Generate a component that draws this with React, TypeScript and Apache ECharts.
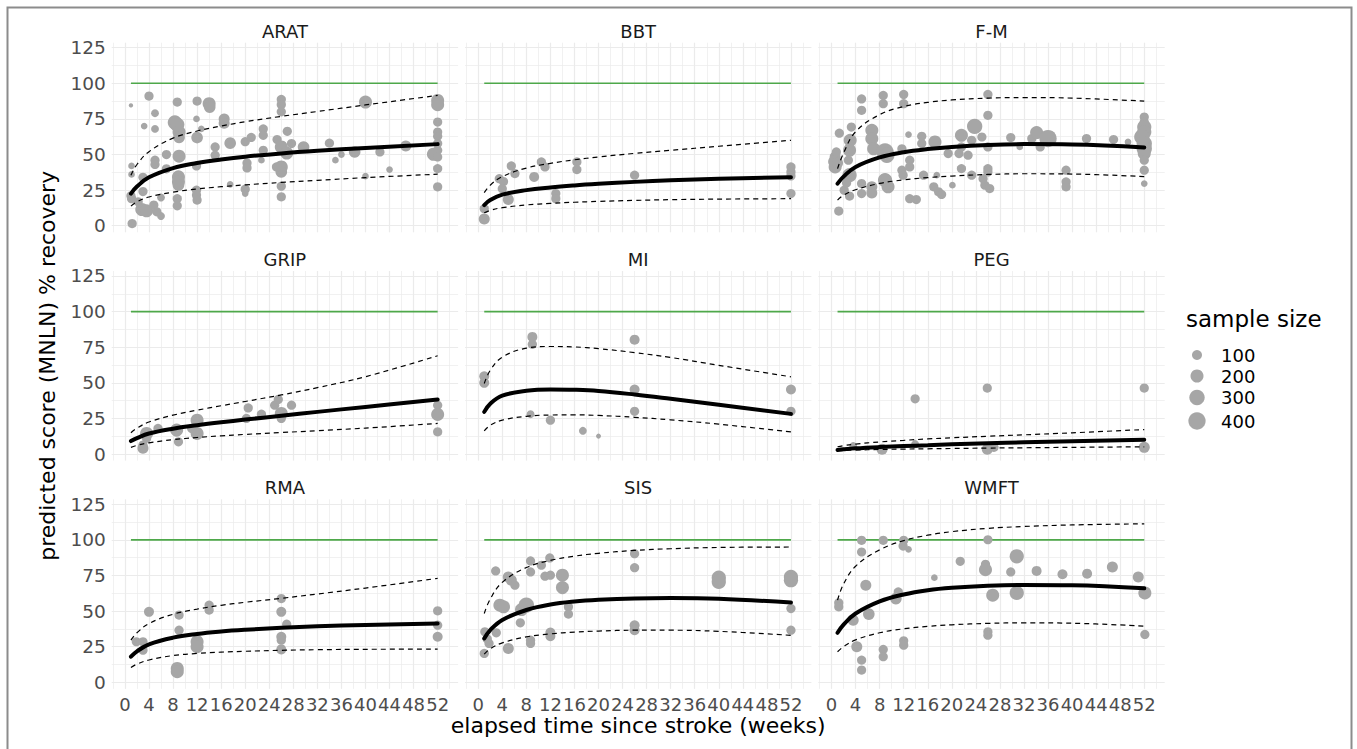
import React, { useEffect, useRef } from "react";
import * as echarts from "echarts";

// ---------- data ----------
const PANELS = ["ARAT", "BBT", "F-M", "GRIP", "MI", "PEG", "RMA", "SIS", "WMFT"];
const X_TICKS = [0, 4, 8, 12, 16, 20, 24, 28, 32, 36, 40, 44, 48, 52];
const Y_TICKS = [0, 25, 50, 75, 100, 125];
const X_GRID = [-2, 0, 2, 4, 6, 8, 10, 12, 14, 16, 18, 20, 22, 24, 26, 28, 30, 32, 34, 36, 38, 40, 42, 44, 46, 48, 50, 52, 54];
const Y_GRID = [0, 12.5, 25, 37.5, 50, 62.5, 75, 87.5, 100, 112.5, 125];
const CURVE_WEEKS = [1, 2, 4, 8, 12, 16, 20, 26, 32, 40, 52];
const REFERENCE_LEVEL = 100;
const LEGEND_SIZES = [100, 200, 300, 400];

// fitted curve, upper and lower bound per panel (values at CURVE_WEEKS)
const FIT: Record<string, number[]> = {
  ARAT: [22.6, 27.5, 34, 40.5, 44, 46.5, 48.5, 50.8, 52.6, 54.6, 57.3],
  BBT: [14.5, 18, 21.8, 25, 26.9, 28.3, 29.4, 30.8, 31.9, 33, 34],
  "F-M": [29.6, 34.5, 41.3, 48, 51.6, 53.8, 55.3, 56.7, 57.3, 57.1, 55],
  GRIP: [9.1, 11.2, 14.4, 17.8, 20.2, 22.3, 24.2, 26.9, 29.6, 33.1, 38.3],
  MI: [29.6, 35.3, 41, 44.4, 45.3, 45.1, 44.3, 41.8, 38.8, 34.6, 28.2],
  PEG: [2.8, 3.3, 4, 4.9, 5.6, 6.2, 6.8, 7.6, 8.3, 9, 10],
  RMA: [18, 21.8, 26.7, 31.4, 34, 35.7, 36.9, 38.3, 39.3, 40.3, 41.3],
  SIS: [30.8, 36.7, 43.8, 50.8, 54.6, 56.7, 57.9, 58.9, 59.2, 58.7, 56],
  WMFT: [34.8, 40.5, 48.3, 56.8, 61.7, 64.7, 66.4, 67.8, 68.4, 68.2, 66],
};
const UPPER: Record<string, number[]> = {
  ARAT: [35.5, 43, 52, 61.5, 66.5, 70, 73, 76.8, 80.2, 84.8, 91.5],
  BBT: [23.3, 28.5, 34.5, 40.5, 43.8, 46.3, 48.3, 50.8, 53, 55.8, 60],
  "F-M": [40.1, 51, 66, 78, 83.7, 86.6, 88.3, 89.6, 90, 89.6, 87.5],
  GRIP: [15, 18.2, 22.5, 27.3, 30.8, 33.9, 36.9, 41.5, 46.6, 54.3, 69],
  MI: [49.5, 58.8, 68, 74.3, 75.5, 75.2, 74, 71.2, 67.8, 62.3, 54.2],
  PEG: [5.1, 5.9, 7, 8.5, 9.6, 10.6, 11.4, 12.5, 13.5, 14.9, 17.2],
  RMA: [29.6, 34.8, 41.3, 47.8, 51.4, 54.1, 56.2, 59, 62, 66.2, 73],
  SIS: [48.3, 58.5, 70.2, 80.6, 85.6, 88.6, 90.6, 92.6, 93.8, 94.7, 95],
  WMFT: [57.7, 69, 81.5, 93, 99.5, 103.3, 105.8, 108.1, 109.4, 110.5, 111.3],
};
const LOWER: Record<string, number[]> = {
  ARAT: [13.8, 16.8, 20.2, 23.6, 25.8, 27.4, 28.7, 30.4, 31.9, 33.8, 36.2],
  BBT: [9.1, 10.8, 12.7, 14.6, 15.7, 16.5, 17.1, 17.8, 18.3, 18.7, 19],
  "F-M": [18, 21.4, 25.3, 29.7, 32.2, 33.8, 34.9, 36, 36.5, 36.3, 34.5],
  GRIP: [4.7, 6.1, 7.9, 10.1, 11.6, 12.8, 13.8, 15.1, 16.4, 18.2, 21.5],
  MI: [16.3, 20.2, 23.8, 26.5, 27.4, 27.5, 27.1, 25.8, 24, 21, 15.5],
  PEG: [2.3, 2.5, 2.8, 3.2, 3.5, 3.7, 3.9, 4.2, 4.4, 4.7, 5.1],
  RMA: [10.5, 12.8, 15.7, 18.8, 20.3, 21.2, 21.8, 22.5, 22.9, 23.2, 23.3],
  SIS: [19.8, 23.6, 27.7, 31.9, 34, 35.3, 36, 36.6, 36.6, 35.8, 33],
  WMFT: [21.5, 25.1, 29.8, 34.8, 37.6, 39.3, 40.4, 41.4, 41.8, 41.5, 39.5],
};

// study points: [weeks, % recovery, sample size]
const ARAT_PTS = [
  [1.0, 84.5, 5], [1.1, 42, 30], [1.1, 36, 30], [1.0, 21, 80], [1.1, 19, 80], [1.2, 1.5, 80],
  [3.2, 70, 30], [4, 91, 80], [5, 79, 50], [5, 68, 50], [3, 34, 80], [2.8, 11.4, 200], [3.6, 10.5, 200],
  [2.2, 16.8, 80], [3, 24, 80], [5, 46, 80], [5, 43, 80], [4.8, 14.5, 80], [5.3, 9.8, 80], [6, 6.8, 50],
  [6, 19.8, 50], [6.9, 50, 80], [6.9, 40, 80], [8.7, 86.8, 80], [8.3, 72.5, 250], [8.7, 71, 250],
  [9, 65.8, 200], [9, 62, 150], [9, 48.8, 200], [8.9, 34.3, 200], [8.9, 30.8, 200], [8.9, 28.5, 150],
  [8.7, 19, 80], [8.7, 14, 80], [12, 87.5, 80], [11.9, 75, 30], [14, 85.7, 200], [14.1, 83.3, 150],
  [12, 61.9, 150], [11.9, 42, 80], [11.9, 25, 80], [11.9, 21.5, 80], [12, 18, 80], [12.7, 68, 30],
  [15, 55.3, 80], [15, 49.5, 80], [16.5, 75, 130], [16.5, 72, 130], [17.5, 58, 150], [17.5, 29, 30],
  [20, 59, 80], [21, 62, 80], [20.3, 44, 80], [20.3, 40.6, 80], [20, 25.7, 80], [20, 22.6, 30],
  [23, 68, 80], [23, 63.5, 80], [23, 53, 80], [22.7, 46, 30], [25.3, 60.5, 80], [26, 88.7, 80],
  [26, 85, 80], [26, 80, 80], [26, 55.3, 200], [26, 41.3, 200], [26, 37.8, 150], [26, 27.8, 80],
  [26, 20.3, 80], [25.2, 41.3, 80], [27, 66.3, 80], [26.9, 51, 200], [27.7, 57.7, 80], [29.7, 55.3, 150],
  [34, 58, 80], [35, 46, 30], [36, 50, 30], [38.2, 51.8, 150], [40, 86.8, 200], [40, 34.8, 30],
  [42.4, 51.8, 80], [44, 39.4, 30], [46.7, 56, 130], [52, 88, 200], [52, 85, 200], [52, 72.8, 80],
  [52, 65.8, 80], [52, 62.8, 80], [52, 57.7, 80], [52, 53, 80], [51.3, 50.2, 200], [52, 48.3, 80],
  [52, 40.1, 80], [52, 27.3, 80],
];
const BBT_PTS = [
  [1, 4.7, 130], [1, 12, 80], [3.5, 33, 80], [4.2, 31, 80], [4, 26, 80], [5, 18.4, 130], [5.5, 42, 80],
  [6.1, 36.6, 80], [9.3, 34.3, 100], [10.5, 44.8, 80], [11.1, 41.3, 80], [12.9, 22.6, 80], [12.9, 19, 80],
  [16.4, 44.8, 80], [16.4, 39.4, 80], [26, 35.5, 80], [52, 41.3, 80], [52, 37.8, 80], [52, 35, 80],
  [52, 22.6, 80],
];
const FM_PTS = [
  [1.2, 10.3, 80], [0.6, 48.3, 130], [0.8, 51.8, 80], [0.6, 41.3, 200], [1.3, 65, 80], [0.4, 45, 150],
  [1.0, 44, 130], [3.3, 69.3, 80], [3.1, 60, 200], [3, 53, 200], [2.8, 46, 80], [3, 35.5, 250],
  [2.1, 25, 80], [3, 20.8, 80], [2.5, 30, 80], [5, 89, 80], [5, 81, 80], [5, 29.6, 80], [5, 22.6, 80],
  [6.7, 27.3, 130], [6.7, 23, 130], [6.7, 67, 200], [6.7, 61, 200], [7, 54, 200], [8.6, 91.5, 80],
  [8.6, 85.7, 80], [8.9, 51.8, 400], [9.2, 49.5, 300], [8.9, 32, 250], [9.4, 27.3, 200], [12, 92.2, 80],
  [12, 85.7, 80], [12.8, 64, 30], [11.7, 54, 80], [13, 46, 80], [11.7, 39, 80], [11.9, 35.5, 80],
  [13, 41.3, 80], [13, 19, 80], [14.1, 18.4, 80], [15, 62.8, 80], [15, 57.7, 80], [15.3, 35.5, 80],
  [17.2, 58.8, 200], [17.5, 35.5, 30], [17, 27.3, 80], [17.8, 23.8, 80], [18.3, 22, 80], [19.4, 50.7, 80],
  [20.1, 28.5, 30], [21.2, 50.7, 80], [21.6, 63.5, 200], [21.6, 55.3, 80], [21.6, 40.1, 80],
  [22.7, 49.5, 80], [23.3, 60, 80], [23.8, 69.8, 300], [23.3, 35.5, 80], [25, 62.3, 80], [26, 92.2, 80],
  [26, 77.5, 80], [26, 55.3, 80], [26, 40.1, 80], [26, 37.8, 80], [25.5, 28.5, 80], [26.3, 26.1, 80],
  [25.2, 33, 80], [29.8, 61.9, 80], [31.3, 55.3, 30], [33.3, 61.2, 80], [34.1, 65.4, 200],
  [34.7, 55.3, 80], [36, 61.2, 400], [39, 39, 80], [39, 30.8, 80], [39, 27.3, 80], [42.4, 61.2, 80],
  [46.9, 60.5, 80], [49.3, 58.8, 30], [52, 76.3, 80], [52, 72.8, 80], [52, 69.3, 250], [52, 65.8, 250],
  [51.6, 62.3, 300], [52, 57.7, 300], [52, 54.2, 300], [52, 50.7, 200], [52, 46, 80], [52, 39, 80],
  [52, 29.6, 30],
];
const GRIP_PTS = [
  [3, 4, 130], [3, 6.3, 80], [3.6, 14.5, 200], [3.6, 11, 80], [5.5, 18, 80], [8.6, 16.8, 200],
  [8.9, 8.6, 80], [11.1, 18, 80], [12, 23.8, 200], [12, 14.5, 200], [20.2, 25, 80], [20.5, 32.4, 80],
  [22.7, 28, 80], [24.9, 34.3, 80], [25.5, 38.3, 80], [26, 28.5, 200], [26, 25, 80], [27.7, 34.3, 80],
  [52, 34.3, 80], [52, 27.8, 200], [52, 15.6, 80],
];
const MI_PTS = [
  [1, 54.6, 100], [1, 50, 100], [9, 82.2, 100], [9, 77, 80], [8.7, 28, 50], [12, 23.8, 80],
  [17.4, 16.3, 50], [20, 12.6, 10], [26, 80.3, 100], [26, 45.3, 100], [26, 30, 80], [52, 45.3, 100],
  [52, 30, 80],
];
const PEG_PTS = [
  [3.6, 5.6, 50], [8.4, 3.3, 130], [13.9, 38.8, 80], [13.9, 7, 50], [25.9, 46.3, 80], [25.9, 3.3, 130],
  [27, 4.7, 80], [52, 46.3, 80], [52, 4.7, 130],
];
const RMA_PTS = [
  [1.9, 28.5, 80], [3, 28.5, 80], [3, 22.6, 80], [4, 49.5, 100], [9, 47.2, 80], [9, 36.6, 80],
  [8.7, 9.8, 200], [8.7, 7.5, 200], [12, 28.5, 200], [12, 25, 200], [14, 54.2, 80], [14, 50.7, 80],
  [26, 58.8, 80], [26, 49.5, 100], [26, 32, 100], [26, 29.6, 80], [26, 23.1, 100], [26.9, 40.8, 80],
  [52, 50.2, 80], [52, 40.1, 80], [52, 32, 100],
];
const SIS_PTS = [
  [1, 20.3, 80], [1.1, 35.5, 80], [1.8, 27.3, 80], [1.5, 30.5, 80], [2.9, 78.2, 80], [3, 34.8, 80],
  [3.6, 54.2, 200], [4.2, 53, 200], [5, 74, 130], [5.5, 71.7, 130], [6.1, 68.2, 80], [5, 23.8, 130],
  [7, 41.8, 80], [8.7, 85.2, 80], [8.7, 77.5, 80], [8, 54.2, 300], [7.2, 51.1, 200], [8.7, 29.6, 80],
  [8.7, 27.3, 80], [10.5, 82.2, 80], [11.9, 87.3, 80], [11.1, 74.5, 80], [12, 75.2, 80], [12, 35, 100],
  [12, 32.4, 100], [14, 75.2, 200], [14, 66.5, 200], [15, 53, 80], [15, 47.9, 80], [26, 90.3, 80],
  [26, 80.5, 80], [26, 40.1, 100], [26, 36.6, 100], [40, 73.5, 250], [40, 70.5, 250], [52, 74, 250],
  [52, 71.7, 250], [52, 51.8, 80], [52, 36.6, 80],
];
const WMFT_PTS = [
  [1.2, 55.8, 80], [1.2, 53, 80], [3.6, 43.6, 130], [4.2, 25, 130], [5, 99.7, 80], [5, 91.5, 80],
  [5, 15.6, 80], [5, 8.6, 80], [5.7, 68.2, 130], [6.2, 47.9, 150], [8.6, 99.7, 80], [8.6, 23.1, 80],
  [8.6, 18, 80], [10.7, 58.8, 150], [11.1, 63.5, 80], [12, 99.7, 80], [11.9, 95.7, 80], [12.8, 93.4, 30],
  [12, 29.2, 80], [12, 26.1, 80], [17.1, 73.5, 30], [21.4, 85, 80], [25.6, 82.9, 80], [25.6, 79.1, 200],
  [26, 100.1, 80], [26.8, 61.2, 200], [26, 35.5, 80], [26, 33.1, 80], [29.8, 77.5, 80],
  [30.8, 88.5, 250], [30.8, 62.8, 250], [34.1, 78.2, 100], [38.4, 75.9, 100], [42.5, 76.3, 100],
  [46.7, 81, 130], [51, 74, 130], [52.1, 62.8, 200], [52.1, 33.6, 80],
];
const POINTS: Record<string, number[][]> = {
  ARAT: ARAT_PTS, BBT: BBT_PTS, "F-M": FM_PTS, GRIP: GRIP_PTS, MI: MI_PTS,
  PEG: PEG_PTS, RMA: RMA_PTS, SIS: SIS_PTS, WMFT: WMFT_PTS,
};

// ---------- layout / style ----------
const FONT = "DejaVu Sans";
const PANEL_LEFT = 111.7;
const PANEL_TOP = 42.7;
const PANEL_W = 346.4;
const PANEL_H = 189.6;
const COL_STEP = 353.3;
const ROW_STEP = 228.3;
const X_MIN = -2.2;
const X_MAX = 55.4;
const Y_MIN = -4.6;
const Y_MAX = 128.5;
const POINT_COLOR = "#a6a6a6";
const diameter = (n: number) => 2.7 + 0.73 * Math.sqrt(n);

function buildOption() {
  const grid: any[] = [];
  const xAxis: any[] = [];
  const yAxis: any[] = [];
  const series: any[] = [];
  const graphic: any[] = [];

  PANELS.forEach((name, i) => {
    const r = Math.floor(i / 3);
    const c = i % 3;
    const left = PANEL_LEFT + COL_STEP * c;
    const top = PANEL_TOP + ROW_STEP * r;
    grid.push({ left, top, width: PANEL_W, height: PANEL_H, containLabel: false });
    xAxis.push({
      gridIndex: i, type: "value", min: X_MIN, max: X_MAX,
      axisLine: { show: false }, axisTick: { show: false }, splitLine: { show: false },
      axisLabel: {
        show: r === 2, customValues: X_TICKS, margin: 7,
        fontFamily: FONT, fontSize: 18, color: "#4d4d4d",
      },
    });
    yAxis.push({
      gridIndex: i, type: "value", min: Y_MIN, max: Y_MAX,
      axisLine: { show: false }, axisTick: { show: false }, splitLine: { show: false },
      axisLabel: {
        show: c === 0, customValues: Y_TICKS, margin: 6,
        fontFamily: FONT, fontSize: 18.5, color: "#4d4d4d",
      },
    });

    const gridLines = [
      ...X_GRID.map((v) => ({
        xAxis: v,
        lineStyle: { color: "#ebebeb", width: v % 4 === 0 ? 1.2 : 0.7, type: "solid" },
      })),
      ...Y_GRID.map((v) => ({
        yAxis: v,
        lineStyle: { color: "#ebebeb", width: v % 25 === 0 ? 1.2 : 0.7, type: "solid" },
      })),
    ];
    series.push({
      type: "line", xAxisIndex: i, yAxisIndex: i, data: [], z: 0, silent: true,
      markLine: {
        z: 0, zlevel: 0,
        silent: true, symbol: ["none", "none"], label: { show: false },
        emphasis: { disabled: true }, data: gridLines, animation: false,
      },
    });
    series.push({
      type: "line", xAxisIndex: i, yAxisIndex: i, z: 1, silent: true, symbol: "none",
      data: [[CURVE_WEEKS[0], REFERENCE_LEVEL], [CURVE_WEEKS[CURVE_WEEKS.length - 1], REFERENCE_LEVEL]],
      lineStyle: { color: "#4ea84a", width: 1.6 },
    });
    series.push({
      type: "scatter", xAxisIndex: i, yAxisIndex: i, z: 2, silent: true,
      data: POINTS[name],
      symbolSize: (v: number[]) => diameter(v[2]),
      itemStyle: { color: POINT_COLOR, opacity: 1 },
    });
    const curve = (vals: number[]) => CURVE_WEEKS.map((w, k) => [w, vals[k]]);
    [UPPER[name], LOWER[name]].forEach((vals) => {
      series.push({
        type: "line", xAxisIndex: i, yAxisIndex: i, z: 3, silent: true, symbol: "none",
        smooth: 0.4, data: curve(vals),
        lineStyle: { color: "#000", width: 1.2, type: [5, 4] },
      });
    });
    series.push({
      type: "line", xAxisIndex: i, yAxisIndex: i, z: 4, silent: true, symbol: "none",
      smooth: 0.4, data: curve(FIT[name]),
      lineStyle: { color: "#000", width: 4, cap: "round" },
    });

    graphic.push({
      type: "text", x: left + PANEL_W / 2, y: top - 11.4,
      style: {
        text: name, fontFamily: FONT, fontSize: 18, fill: "#1a1a1a",
        textAlign: "center", textVerticalAlign: "middle",
      },
    });
  });

  const centerX = PANEL_LEFT + (COL_STEP * 2 + PANEL_W) / 2;
  const centerY = PANEL_TOP + (ROW_STEP * 2 + PANEL_H) / 2;
  graphic.push({
    type: "text", x: centerX, y: 725.5,
    style: {
      text: "elapsed time since stroke (weeks)", fontFamily: FONT, fontSize: 22, fill: "#000",
      textAlign: "center", textVerticalAlign: "middle",
    },
  });
  graphic.push({
    type: "text", x: 47, y: centerY, rotation: Math.PI / 2,
    style: {
      text: "predicted score (MNLN) % recovery", fontFamily: FONT, fontSize: 22, fill: "#000",
      textAlign: "center", textVerticalAlign: "middle",
    },
  });
  // legend
  graphic.push({
    type: "text", x: 1186, y: 318.7,
    style: {
      text: "sample size", fontFamily: FONT, fontSize: 23, fill: "#000",
      textAlign: "left", textVerticalAlign: "middle",
    },
  });
  const legendY = [355, 376, 397.5, 421];
  LEGEND_SIZES.forEach((n, k) => {
    graphic.push({
      type: "circle", shape: { cx: 1197, cy: legendY[k], r: diameter(n) / 2 },
      style: { fill: POINT_COLOR },
    });
    graphic.push({
      type: "text", x: 1221, y: legendY[k],
      style: {
        text: String(n), fontFamily: FONT, fontSize: 18, fill: "#000",
        textAlign: "left", textVerticalAlign: "middle",
      },
    });
  });
  graphic.push({
    type: "rect", shape: { x: 7.5, y: 7.5, width: 1344, height: 800 }, silent: true,
    style: { fill: "none", stroke: "#8c8c8c", lineWidth: 2 },
  });

  return {
    animation: false,
    backgroundColor: "#ffffff",
    grid, xAxis, yAxis, series, graphic,
  };
}

export default function App() {
  const ref = useRef<HTMLDivElement>(null);
  useEffect(() => {
    if (!ref.current) return;
    const chart = echarts.init(ref.current, null, { renderer: "svg" });
    chart.setOption(buildOption() as any);
    return () => chart.dispose();
  }, []);
  return (
    <div
      ref={ref}
      style={{ position: "fixed", left: 0, top: 0, width: 1357, height: 749, background: "#fff" }}
    />
  );
}
